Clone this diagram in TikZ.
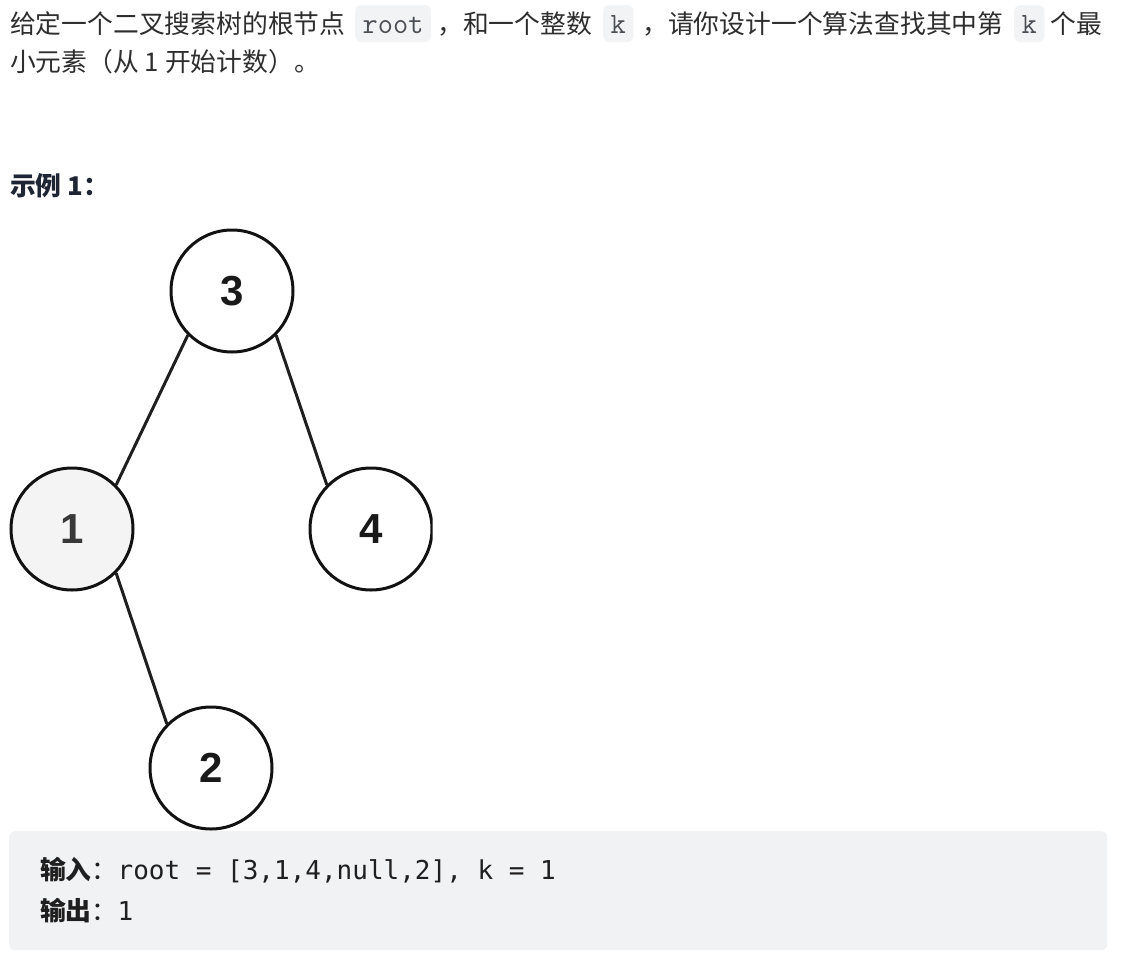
\documentclass[tikz,border=0pt]{standalone}
\usepackage{fontspec}
\setmainfont{Noto Sans CJK SC}
\newfontfamily\numfont{Liberation Sans}
\newfontfamily\blockcode{DejaVu Sans Mono}
\definecolor{bodytext}{HTML}{2E2E2E}
\definecolor{headtext}{HTML}{1E2633}
\definecolor{codebg}{HTML}{F1F2F4}
\definecolor{icodebg}{HTML}{F2F3F5}
\definecolor{icodetext}{HTML}{4A4E55}
\definecolor{nodegray}{HTML}{F4F4F4}
\tikzset{
  body/.style={anchor=base west, inner sep=0pt, text=bodytext, font=\fontsize{25.8}{30}\selectfont},
  head/.style={anchor=base west, inner sep=0pt, text=headtext, font=\bfseries\fontsize{25.8}{30}\selectfont},
  icode/.style={anchor=base west, fill=icodebg, rounded corners=6pt, inner xsep=7.5pt, inner ysep=0pt,
    text height=28pt, text depth=9pt, text=icodetext, font=\ttfamily\fontsize{29.5}{30}\selectfont},
  codebox/.style={anchor=north west, fill=codebg, rounded corners=6pt, inner sep=0pt,
    minimum width=1098pt, minimum height=119pt},
  codelabel/.style={anchor=base west, inner sep=0pt, text=black!88, font=\fontsize{25.8}{30}\selectfont},
  codetext/.style={anchor=base west, inner sep=0pt, text=black!88, font=\blockcode\fontsize{26.0}{30}\selectfont},
  treenode/.style={circle, draw=black!93, line width=3pt, fill=white, minimum size=122pt, inner sep=0pt,
    font=\numfont\bfseries\fontsize{42}{42}\selectfont, text=black!90},
  edge/.style={draw=black!88, line width=3pt}
}
\begin{document}
\begin{tikzpicture}[x=1pt,y=-1pt]
\useasboundingbox (0,0) rectangle (1128,972);
\fill[white] (0,0) rectangle (1128,972);

% paragraph, line 1
\node[body] (t1) at (10,33) {给定一个二叉搜索树的根节点};
\node[icode] (c1) at (355,33) {root};
\node[body] (t2) at (437,33) {，和一个整数};
\node[icode] (c2) at (603,33) {k};
\node[body] (t3) at (642,33) {，请你设计一个算法查找其中第};
\node[icode] (c3) at (1014,33) {k};
\node[body] (t4) at (1050,33) {个最};
% paragraph, line 2
\node[body] (t5) at (10,71.5) {小元素（从 1 开始计数）。};

% heading
\node[head] (h1) at (10,195.5) {示例 1：};

% tree (clipped like the original image)
\begin{scope}
\clip (0,225) rectangle (432.5,830);
\node[treenode] (n3) at (232,291) {3};
\node[treenode, fill=nodegray, text=black!78] (n1) at (72,529) {1};
\node[treenode] (n4) at (371,529) {4};
\node[treenode] (n2) at (211,768) {2};
\draw[edge] (n3.-135) -- (n1.45);
\draw[edge] (n3.-45) -- (n4.135);
\draw[edge] (n1.-45) -- (n2.135);
\end{scope}

% example box
\node[codebox] (box) at (9,831) {};
\node[codelabel] (l1) at (40,879) {\textbf{输入}：};
\node[codetext] (v1) at (117.4,879) {root = [3,1,4,null,2], k = 1};
\node[codelabel] (l2) at (40,920) {\textbf{输出}：};
\node[codetext] (v2) at (117.4,920) {1};
\end{tikzpicture}
\end{document}
